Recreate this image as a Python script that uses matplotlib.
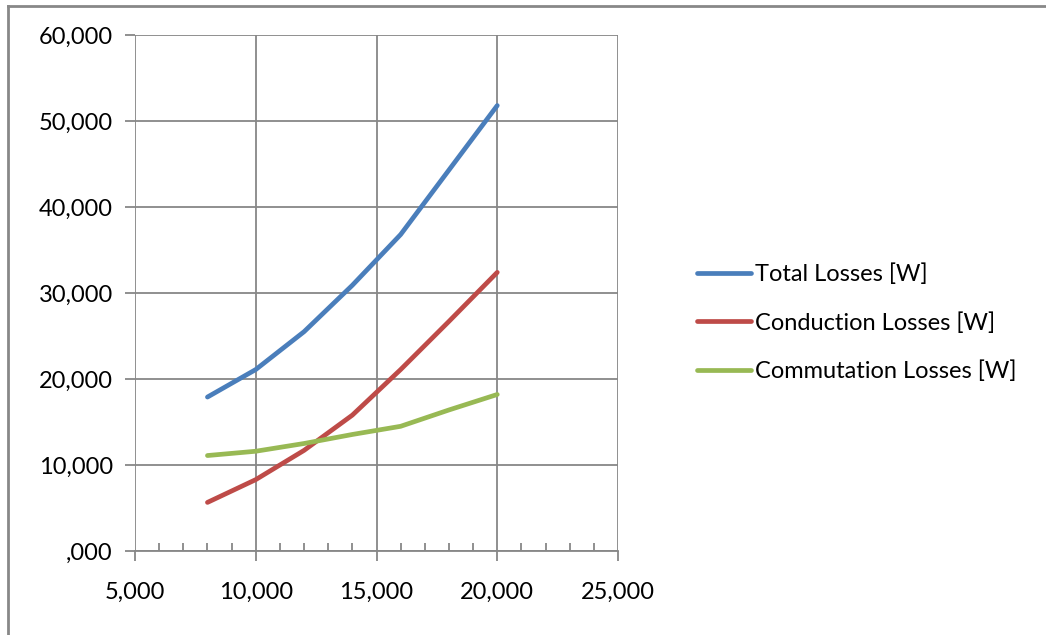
import matplotlib
matplotlib.use("Agg")
import matplotlib.pyplot as plt
from matplotlib.ticker import MultipleLocator, FuncFormatter
from matplotlib.lines import Line2D

plt.rcParams['font.family'] = ['Lato', 'DejaVu Sans']

# Switching frequency [Hz]
freq = [8000, 10000, 12000, 14000, 16000, 18000, 20000]
total_losses = [17900, 21100, 25500, 30900, 36800, 44300, 51800]
conduction_losses = [5650, 8300, 11700, 15800, 21100, 26700, 32400]
commutation_losses = [11100, 11600, 12500, 13550, 14500, 16400, 18200]

series_names = ["Total Losses [W]", "Conduction Losses [W]", "Commutation Losses [W]"]
series_colors = ["#4a7ebb", "#be4b48", "#98b954"]

x_ticks = [5000, 10000, 15000, 20000, 25000]
y_ticks = [0, 10000, 20000, 30000, 40000, 50000, 60000]

grid_col = "#878787"
fs = 17
lw = 3.4

fig = plt.figure(figsize=(10.46, 6.35), dpi=100)
ax = fig.add_axes([135 / 1046, 1 - 551 / 635, (618 - 135) / 1046, (551 - 35) / 635])

for ys, name, col in zip([total_losses, conduction_losses, commutation_losses],
                         series_names, series_colors):
    ax.plot(freq, ys, color=col, lw=lw, label=name, solid_capstyle='round',
            solid_joinstyle='round', zorder=3)

ax.set_xlim(5000, 25000)
ax.set_ylim(0, 60000)
ax.set_xticks(x_ticks)
ax.set_yticks(y_ticks)
ax.xaxis.set_minor_locator(MultipleLocator(1000))


def thousands(v, pos):
    s = f"{int(round(v)):,}"
    return ",000" if v == 0 else s


ax.xaxis.set_major_formatter(FuncFormatter(thousands))
ax.yaxis.set_major_formatter(FuncFormatter(thousands))

ax.grid(True, which='major', color=grid_col, lw=1.3, zorder=1)
for side in ['left', 'right', 'top']:
    ax.spines[side].set_visible(False)
ax.spines['bottom'].set_color(grid_col)
ax.spines['bottom'].set_linewidth(1.3)

ax.tick_params(axis='x', which='major', direction='out', length=7, width=1.3,
               color=grid_col, pad=15, labelsize=fs)
ax.tick_params(axis='x', which='minor', direction='in', length=6, width=1.3,
               color=grid_col)
ax.tick_params(axis='y', which='major', direction='out', length=7, width=1.3,
               color=grid_col, pad=9, labelsize=fs)

handles = [Line2D([0], [0], color=c, lw=lw, solid_capstyle='round') for c in series_colors]
fig.legend(handles, series_names, loc='upper left', bbox_to_anchor=(688 / 1046, 1 - 254 / 635),
           frameon=False, fontsize=fs, handlelength=2.25, handletextpad=0.2,
           labelspacing=1.14, borderaxespad=0)

# outer chart frame (top and left edges)
fig.add_artist(Line2D([8 / 1046, 8 / 1046], [0, 1 - 6 / 635], transform=fig.transFigure,
                      color="#888888", lw=2.0))
fig.add_artist(Line2D([8 / 1046, 1], [1 - 6 / 635, 1 - 6 / 635], transform=fig.transFigure,
                      color="#888888", lw=2.0))

fig.savefig("out.png", dpi=100, facecolor='white')
